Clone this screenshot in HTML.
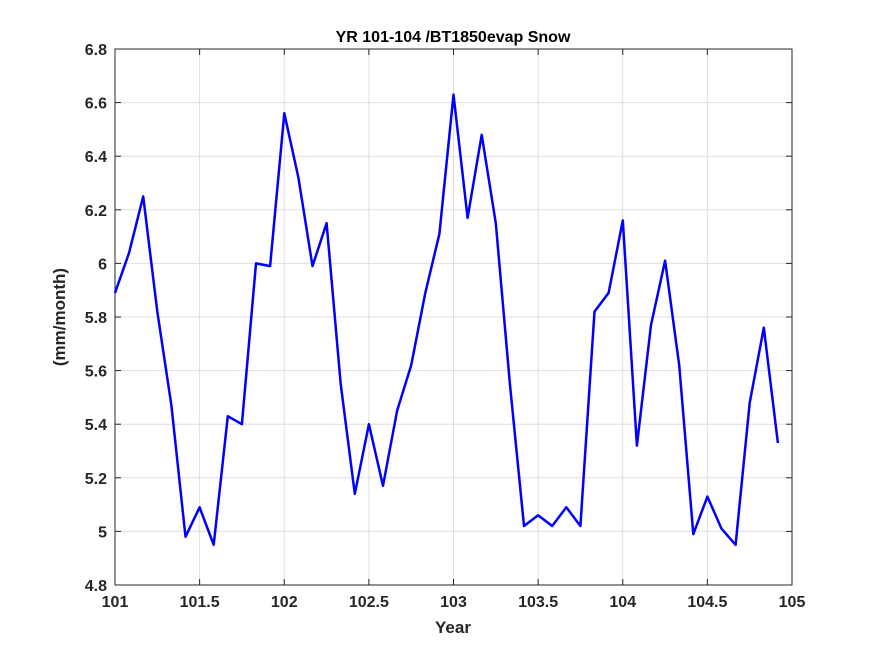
<!DOCTYPE html>
<html><head><meta charset="utf-8"><style>body{margin:0;background:#fff}svg{display:block;font-family:"Liberation Sans",sans-serif}</style></head>
<body>
<svg id="c" width="875" height="656"></svg>
<script>
const values=[5.89,6.04,6.25,5.82,5.47,4.98,5.09,4.95,5.43,5.40,6.00,5.99,6.56,6.32,5.99,6.15,5.55,5.14,5.40,5.17,5.45,5.62,5.89,6.11,6.63,6.17,6.48,6.15,5.55,5.02,5.06,5.02,5.09,5.02,5.82,5.89,6.16,5.32,5.77,6.01,5.62,4.99,5.13,5.01,4.95,5.48,5.76,5.33];
const xTicks=[101,101.5,102,102.5,103,103.5,104,104.5,105];
const xTickLabels=["101","101.5","102","102.5","103","103.5","104","104.5","105"];
const yTicks=[4.8,5,5.2,5.4,5.6,5.8,6,6.2,6.4,6.6,6.8];
const yTickLabels=["4.8","5","5.2","5.4","5.6","5.8","6","6.2","6.4","6.6","6.8"];
const L=115,R=792,T=49,B=585;
const X=v=>L+(v-101)/4*(R-L), Y=v=>B-(v-4.8)/2*(B-T);
const s=document.getElementById('c');const NS='http://www.w3.org/2000/svg';
function mk(t,a,txt){const e=document.createElementNS(NS,t);for(const k in a)e.setAttribute(k,a[k]);if(txt!==undefined)e.textContent=txt;s.appendChild(e);return e;}
let e=mk('rect',{x:L,y:T,width:R-L,height:B-T,fill:'#fff'});

xTicks.forEach((v,i)=>{const x=X(v);
e=mk('line',{x1:x,x2:x,y1:T,y2:B,stroke:'#dfdfdf','stroke-width':1});
mk('line',{x1:x,x2:x,y1:B,y2:B-6,stroke:'#262626'});mk('line',{x1:x,x2:x,y1:T,y2:T+6,stroke:'#262626'});
e=mk('text',{x:x,y:B+22,'text-anchor':'middle','font-size':16,'font-weight':'bold',fill:'#262626'},xTickLabels[i]);});
yTicks.forEach((v,i)=>{const y=Y(v);
e=mk('line',{x1:L,x2:R,y1:y,y2:y,stroke:'#dfdfdf','stroke-width':1});
mk('line',{x1:L,x2:L+6,y1:y,y2:y,stroke:'#262626'});mk('line',{x1:R,x2:R-6,y1:y,y2:y,stroke:'#262626'});
e=mk('text',{x:L-8,y:y+6,'text-anchor':'end','font-size':16,'font-weight':'bold',fill:'#262626'},yTickLabels[i]);});
e=mk('rect',{x:L,y:T,width:R-L,height:B-T,fill:'none',stroke:'#262626','stroke-width':1});
const pts=values.map((v,i)=>X(101+i/12).toFixed(1)+','+Y(v).toFixed(1)).join(' ');
e=mk('polyline',{points:pts,fill:'none',stroke:'#0000ff','stroke-width':2.5,'stroke-linejoin':'round'});
e=mk('text',{x:453,y:42,'text-anchor':'middle','font-size':16,'font-weight':'bold',fill:'#000'},'YR 101-104 /BT1850evap Snow');
e=mk('text',{x:453,y:633,'text-anchor':'middle','font-size':17,'font-weight':'bold',fill:'#262626'},'Year');
e=mk('text',{x:0,y:0,'text-anchor':'middle','font-size':17,'font-weight':'bold',fill:'#262626',transform:'translate(65,317) rotate(-90)'},'(mm/month)');
</script>
</body></html>
